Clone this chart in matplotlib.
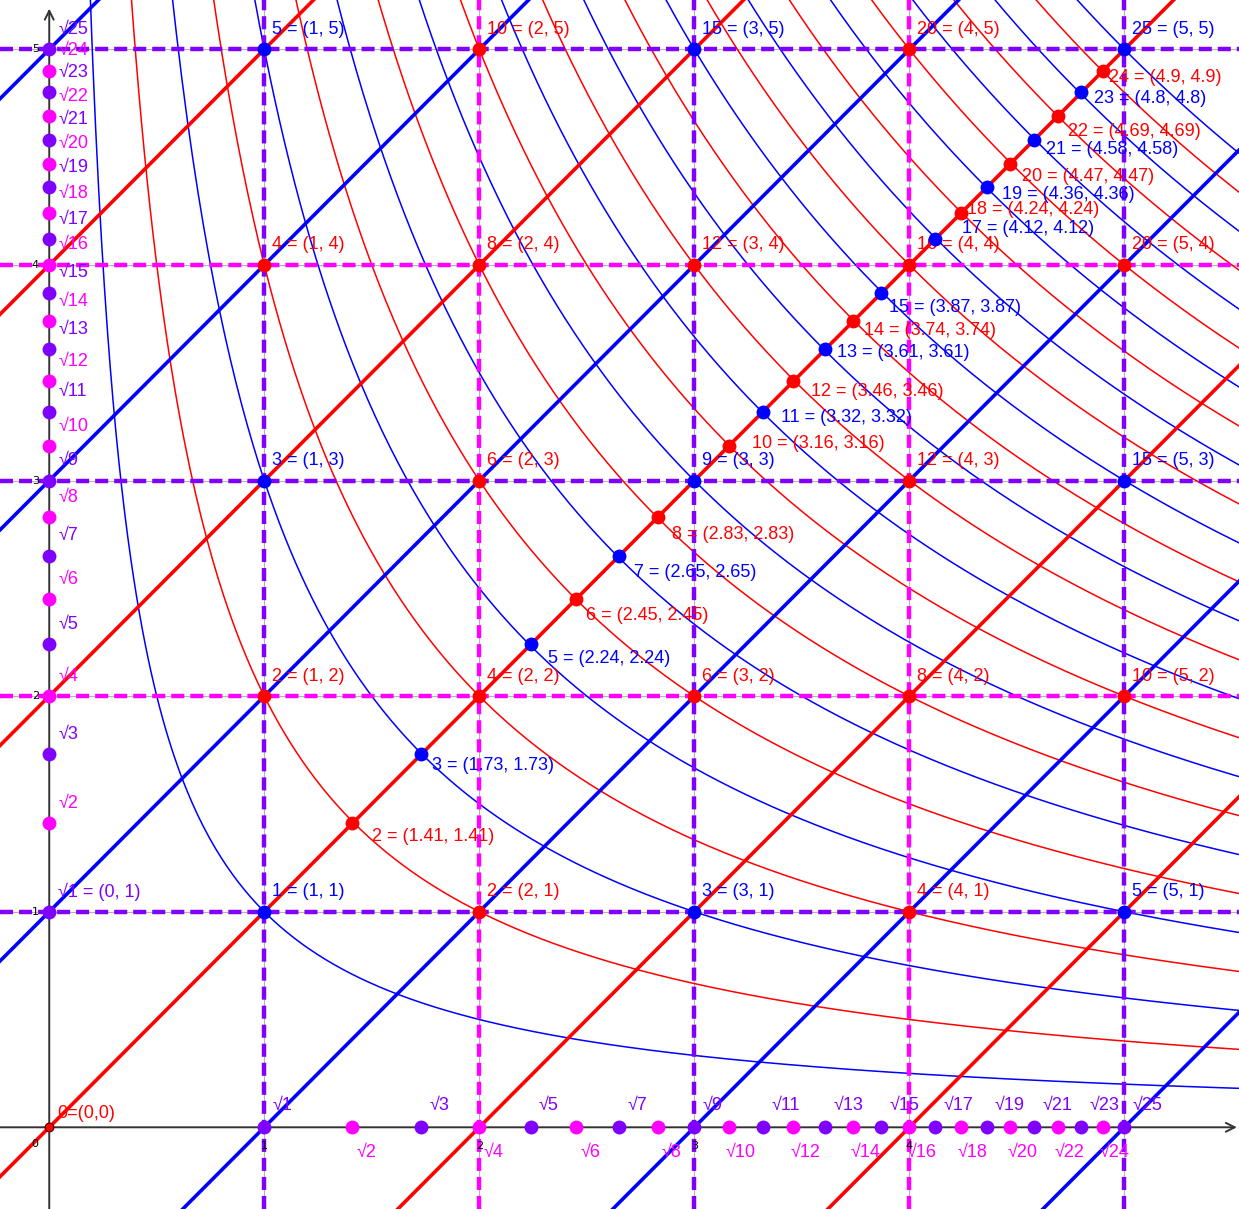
import numpy as np
import matplotlib
matplotlib.use('Agg')
import matplotlib.pyplot as plt

plt.rcParams['font.family'] = ['Liberation Sans', 'DejaVu Sans']
plt.rcParams['lines.scale_dashes'] = False

# n = x * y : the curves xy = n and the points (sqrt n, sqrt n)
products = list(range(1, 26))
# sqrt(n) as written in the labels
roots = [1, 1.41, 1.73, 2, 2.24, 2.45, 2.65, 2.83, 3, 3.16, 3.32, 3.46, 3.61,
         3.74, 3.87, 4, 4.12, 4.24, 4.36, 4.47, 4.58, 4.69, 4.8, 4.9, 5]
grid_vals = [1, 2, 3, 4, 5]
x_tick_labels = ['1', '2', '3', '4']        # 5 is hidden under the labels
y_tick_labels = ['1', '2', '3', '4', '5']
line_shifts = [-5, -4, -3, -2, -1, 0, 1, 2, 3, 4, 5]   # lines y = x + c

BLUE, RED = '#0000ff', '#ff0000'
PURPLE, MAGENTA = '#7f00ff', '#ff00ff'

# where the diagonal labels sit, pixels (right, down) from their point
diag_nudge = {2: (20, 13), 3: (11, 11), 5: (17, 14), 6: (10, 16), 7: (15, 17),
              8: (14, 17), 10: (23, -3), 11: (18, 6), 12: (18, 10), 13: (12, 3),
              14: (11, 9), 15: (8, 15), 17: (27, -11), 18: (6, -4), 19: (15, 7),
              20: (12, 13), 21: (12, 10), 22: (10, 15), 23: (13, 6), 24: (6, 7)}


def odd_even(n, odd, even):
    return odd if n % 2 else even


fig = plt.figure(figsize=(12.39, 12.09), dpi=100)
ax = fig.add_axes([0, 0, 1, 1])
x0, x1, y0, y1 = -0.229, 5.533, -0.379, 5.229
ax.set_xlim(x0, x1)
ax.set_ylim(y0, y1)
ax.set_axis_off()


def label(x, y, text, color, dx, dy, **kw):
    ax.annotate(text, (x, y), xytext=(dx, -dy), textcoords='offset pixels',
                color=color, fontsize=13, va='center', ha='left', zorder=7,
                annotation_clip=False, **kw)


# faint grid under the dashed lines
for v in grid_vals:
    ax.axvline(v, color='#b4b4b4', lw=0.8, zorder=1)
    ax.axhline(v, color='#b4b4b4', lw=0.8, zorder=1)

# hyperbolas xy = n
for n in products:
    xs = np.linspace(n / 5.3, 5.6, 400)
    ax.plot(xs, n / xs, color=odd_even(n, BLUE, RED), lw=1.1, zorder=2)

# diagonal lines
for c in line_shifts:
    ax.axline((0, c), slope=1, color=odd_even(c, BLUE, RED), lw=2.6, zorder=3)

# thick dashed lines at the integers
for v in grid_vals:
    c = odd_even(v, PURPLE, MAGENTA)
    ax.axvline(v, color=c, lw=3.2, dashes=(9.4, 4.3), zorder=4)
    ax.axhline(v, color=c, lw=3.2, dashes=(9.4, 4.3), zorder=4)

# axes with arrows
arrow = dict(arrowstyle='->', color='#333333', lw=1.4, mutation_scale=16,
             shrinkA=0, shrinkB=0)
ax.annotate('', xy=(x1 - 0.01, 0), xytext=(x0, 0), arrowprops=arrow, zorder=5)
ax.annotate('', xy=(0, y1 - 0.04), xytext=(0, y0), arrowprops=arrow, zorder=5)

tick_kw = dict(textcoords='offset pixels', fontsize=8, color='black',
               va='center', family='DejaVu Sans', zorder=5)
for v, t in zip(grid_vals, x_tick_labels):
    ax.annotate(t, (v, 0), xytext=(0, -19), ha='center', **tick_kw)
for v, t in zip(grid_vals, y_tick_labels):
    ax.annotate(t, (0, v), xytext=(-14, 0), ha='center', **tick_kw)
ax.annotate('0', (0, 0), xytext=(-14, -17), ha='center', **tick_kw)

# grid points x*y
for i in grid_vals:
    for j in grid_vals:
        p = i * j
        c = odd_even(p, BLUE, RED)
        ax.scatter(i, j, s=100, color=c, linewidths=0, zorder=8)
        label(i, j, f'{p} = ({i}, {j})', c, 8, -20)

# diagonal points (sqrt n, sqrt n) for non-squares
for n, r in zip(products, roots):
    if r % 1 == 0:
        continue
    c = odd_even(n, BLUE, RED)
    ax.scatter(r, r, s=100, color=c, linewidths=0, zorder=8)
    dx, dy = diag_nudge[n]
    label(r, r, f'{n} = ({r:g}, {r:g})', c, dx, dy)

# sqrt n marked on both axes
for n, r in zip(products, roots):
    c = odd_even(n, PURPLE, MAGENTA)
    ax.scatter([r, 0], [0, r], s=100, color=c, linewidths=0, zorder=8)
    label(0, r, '√1 = (0, 1)' if n == 1 else f'√{n}', c, 9, -20)
    if n % 2:
        label(r, 0, f'√{n}', c, 8, -22)
    else:
        label(r, 0, f'√{n}', c, 4 if n < 10 else -3, 25)

# origin
ax.scatter(0, 0, s=40, color=RED, edgecolors='#550000', linewidths=0.8, zorder=8)
label(0, 0, '0=(0,0)', RED, 8, -14)

fig.savefig('out.png', dpi=100)
